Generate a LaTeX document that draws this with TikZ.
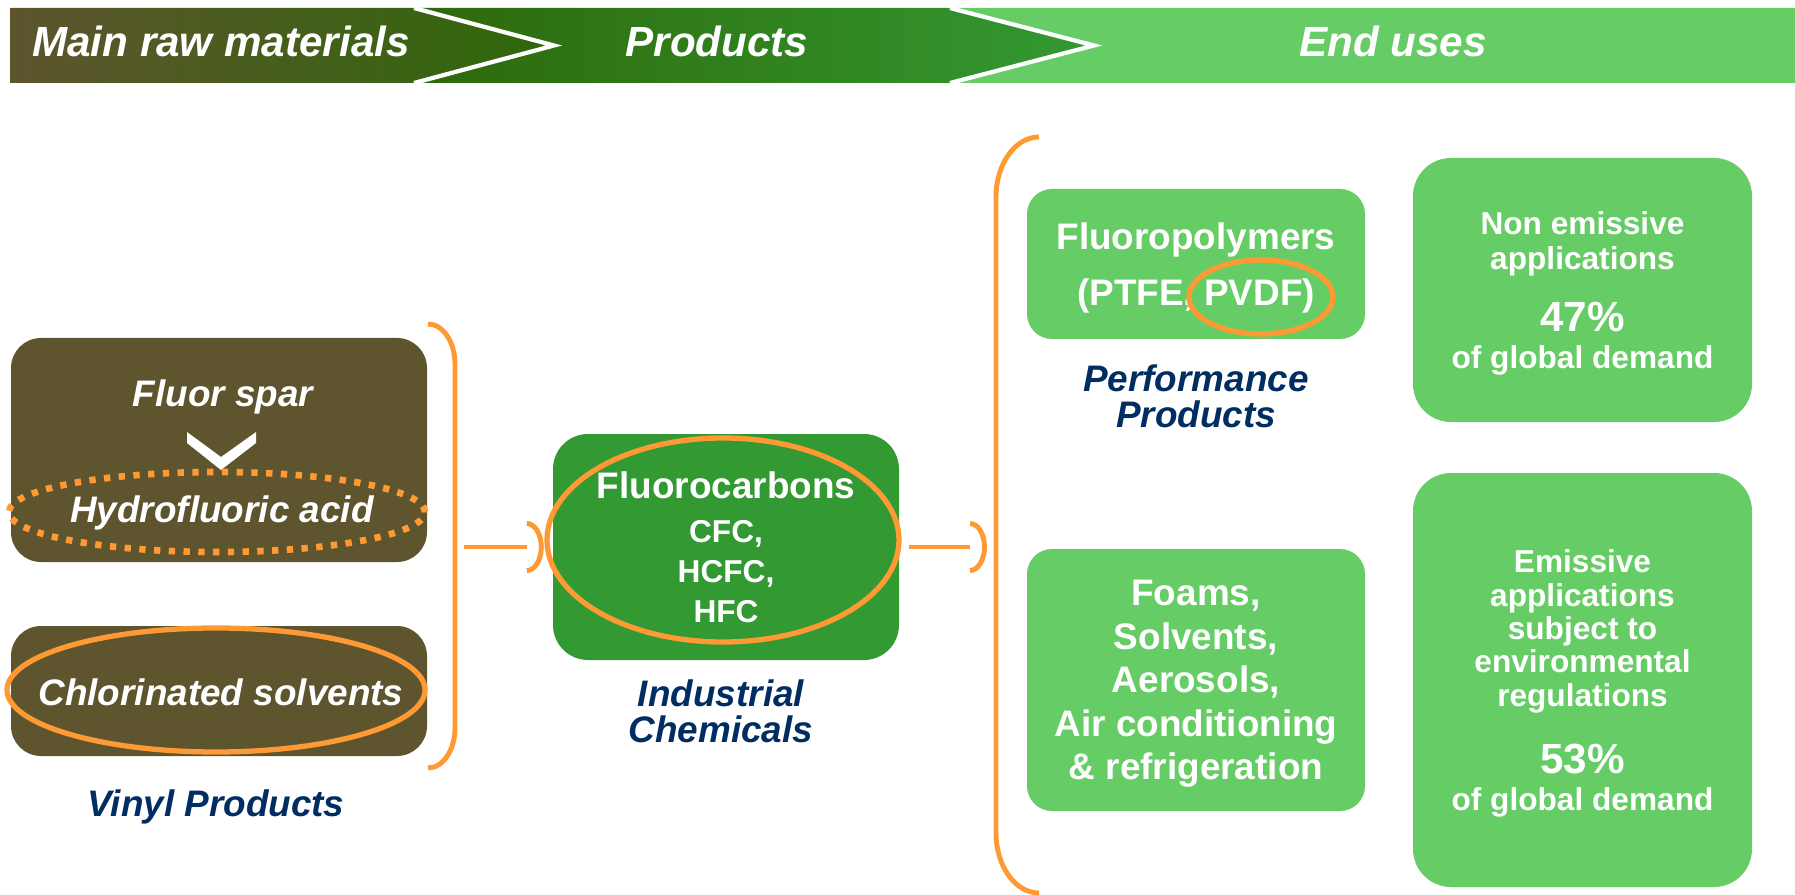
\documentclass[tikz,border=0pt]{standalone}
\usepackage{fontspec}
\setmainfont{Liberation Sans}
\definecolor{rawbrown}{RGB}{94,84,46}
\definecolor{darkleaf}{RGB}{46,104,10}
\definecolor{chemgreen}{RGB}{51,153,51}
\definecolor{usegreen}{RGB}{102,204,102}
\definecolor{hiorange}{RGB}{255,153,51}
\definecolor{labelnavy}{RGB}{0,45,98}

\begin{document}
\begin{tikzpicture}[
  heading/.style={text=white, anchor=base, font=\bfseries\itshape\fontsize{12}{14}\selectfont},
  rawbox/.style={rectangle, rounded corners=0.3cm, fill=rawbrown, inner sep=0pt},
  rawtext/.style={text=white, anchor=base, font=\bfseries\itshape\fontsize{10.5}{12}\selectfont},
  chembox/.style={rectangle, rounded corners=0.35cm, fill=chemgreen, inner sep=0pt, text=white, align=center},
  usebox/.style={rectangle, rounded corners=0.25cm, fill=usegreen, inner sep=0pt, text=white, align=center,
    text depth=0pt, minimum width=3.38cm, font=\bfseries\fontsize{10.5}{12.36}\selectfont},
  sharebox/.style={rectangle, rounded corners=0.38cm, fill=usegreen, inner sep=0pt, text=white, align=center,
    text depth=0pt, minimum width=3.39cm, font=\bfseries\fontsize{9}{9.9}\selectfont},
  caption/.style={text=labelnavy, align=center, font=\bfseries\itshape\fontsize{10.5}{10.3}\selectfont},
  ring/.style={draw=hiorange, line width=1.5pt},
  link/.style={draw=hiorange, line width=1.4pt}
]
\useasboundingbox (0,0) rectangle (17.95,-8.95);

% header band
\shade[left color=rawbrown, right color=darkleaf] (0.10,-0.08) -- (4.14,-0.08) -- (5.54,-0.455) -- (4.14,-0.83) -- (0.10,-0.83) -- cycle;
\shade[left color=darkleaf, right color=chemgreen] (4.14,-0.08) -- (9.50,-0.08) -- (10.94,-0.455) -- (9.50,-0.83) -- (4.14,-0.83) -- (5.54,-0.455) -- cycle;
\fill[usegreen] (9.50,-0.08) -- (17.95,-0.08) -- (17.95,-0.83) -- (9.50,-0.83) -- (10.94,-0.455) -- cycle;
\draw[white, line width=1.2pt] (4.14,-0.08) -- (5.54,-0.455) -- (4.14,-0.83);
\draw[white, line width=1.2pt] (9.50,-0.08) -- (10.94,-0.455) -- (9.50,-0.83);
\node[heading] (rawhead) at (2.21,-0.57) {Main raw materials};
\node[heading] (prodhead) at (7.17,-0.57) {Products};
\node[heading] (usehead) at (13.93,-0.57) {End uses};

% raw materials
\node[rawbox, minimum width=4.16cm, minimum height=2.24cm] (spar) at (2.19,-4.50) {};
\node[rawbox, minimum width=4.16cm, minimum height=1.30cm] (chlor) at (2.19,-6.91) {};
\node[rawtext] (spartext) at (2.23,-4.06) {Fluor spar};
\fill[white] (1.87,-4.32) -- (2.21,-4.57) -- (2.56,-4.32) -- (2.56,-4.43) -- (2.21,-4.70) -- (1.87,-4.43) -- cycle;
\node[rawtext] (hftext) at (2.22,-5.22) {Hydrofluoric acid};
\node[rawtext] (chlortext) at (2.21,-7.05) {Chlorinated solvents};
\draw[ring, line width=1.9pt, dash pattern=on 1.8pt off 2.4pt] (2.17,-5.12) ellipse [x radius=2.08, y radius=0.40];
\draw[ring] (2.16,-6.90) ellipse [x radius=2.09, y radius=0.62];
\node[caption] (vinylcap) at (2.16,-8.07) {Vinyl Products};

% bracket round the raw materials
\coordinate (vinylbrk) at (4.55,-5.47);
\draw[link] (4.28,-3.24) arc[start angle=90, end angle=0, x radius=0.27, y radius=0.40] -- (4.55,-7.28)
  arc[start angle=0, end angle=-90, x radius=0.27, y radius=0.40];

% products
\node[chembox, minimum width=3.46cm, minimum height=2.26cm, font=\bfseries\fontsize{9}{11.4}\selectfont] (fluoro) at (7.26,-5.47)
  {{\fontsize{10.5}{12.6}\selectfont Fluorocarbons}\\[1.2pt]CFC,\\HCFC,\\HFC};
\draw[ring] (7.23,-5.40) ellipse [x radius=1.76, y radius=1.02];
\node[caption] (chemcap) at (7.21,-7.11) {Industrial\\Chemicals};
\draw[link] ([xshift=0.09cm]vinylbrk) -- ([xshift=-0.255cm]fluoro.west);
\draw[link] ([xshift=-0.255cm,yshift=0.235cm]fluoro.west) arc[start angle=90, end angle=-90, x radius=0.145, y radius=0.235];

% bracket round the end uses
\coordinate (usebrk) at (9.96,-5.47);
\draw[link] (10.39,-1.37) arc[start angle=90, end angle=180, x radius=0.43, y radius=0.60] -- (9.96,-8.33)
  arc[start angle=180, end angle=270, x radius=0.43, y radius=0.60];
\draw[link] ([xshift=0.09cm]fluoro.east) -- ([xshift=-0.26cm]usebrk);
\draw[link] ([xshift=-0.26cm,yshift=0.235cm]usebrk) arc[start angle=90, end angle=-90, x radius=0.145, y radius=0.235];

% end uses
\node[usebox, minimum height=1.50cm] (polymer) at (11.96,-2.64) {Fluoropolymers\\[3.55pt](PTFE, PVDF)};
\draw[ring] (12.61,-2.97) ellipse [x radius=0.72, y radius=0.37];
\node[caption] (perfcap) at (11.96,-3.96) {Performance\\Products};
\node[usebox, minimum height=2.62cm] (foams) at (11.96,-6.80)
  {Foams,\\Solvents,\\Aerosols,\\Air conditioning\\\& refrigeration};
\node[sharebox, minimum height=2.64cm] (nonemis) at (15.825,-2.90)
  {Non emissive\\applications\\[6.5pt]{\fontsize{12}{14}\selectfont 47\%}\\[0.6pt]of global demand};
\node[sharebox, minimum height=4.14cm, font=\bfseries\fontsize{9}{9.5}\selectfont] (emis) at (15.825,-6.80)
  {Emissive\\applications\\subject to\\environmental\\regulations\\[7.8pt]{\fontsize{12}{14}\selectfont 53\%}\\[1pt]of global demand};
\end{tikzpicture}
\end{document}
